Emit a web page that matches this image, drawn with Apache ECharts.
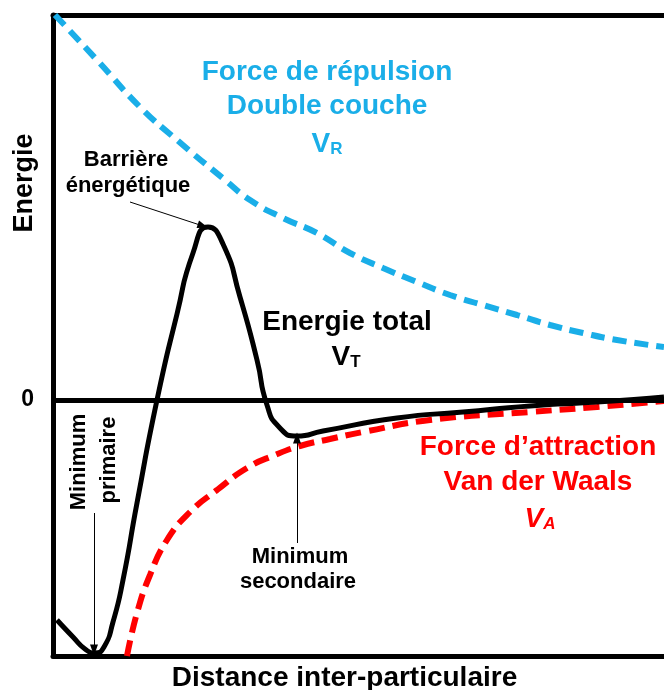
<!DOCTYPE html>
<html>
<head>
<meta charset="utf-8">
<script src="https://cdn.jsdelivr.net/npm/echarts@6/dist/echarts.min.js"></script>
<style>
	html, body { margin: 0; padding: 0; background: #fff; }
	#chart { width: 664px; height: 690px; }
</style>
</head>
<body>
<div id="chart"></div>
<script>
// 距离 (arbitrary units)
const totalDist = [4, 20, 32, 42, 51, 60, 70, 84, 104, 124, 140, 155, 170, 187, 204, 214, 226, 244, 270, 344, 410, 477, 544, 611];
const totalEnergy = [-220, -237, -249, -253, -247, -222, -180, -103, 0, 86, 147, 173, 156, 103, 40, -5, -27, -36, -31, -18, -12, -6, -2, 3];

const repDist = [2, 44, 87, 124, 172, 197, 230, 264, 297, 330, 364, 397, 430, 464, 497, 530, 564, 611];
const repEnergy = [385, 340, 293, 260, 220, 200, 182, 167, 147, 132, 118, 105, 95, 85, 75, 67, 60, 53];

const attDist = [74, 84, 97, 114, 137, 164, 194, 222, 247, 277, 310, 377, 477, 544, 611];
const attEnergy = [-256, -213, -175, -140, -112, -90, -68, -55, -46, -39, -32, -20, -12, -7, -1];

const zip = (xs, ys) => xs.map((x, i) => [x, ys[i]]);

const FONT = "Liberation Sans, Arial, sans-serif";
const BLUE = "#1aaee8";
const RED = "#ff0000";

const myChart = echarts.init(document.querySelector("#chart"));

// 箭头
const arrow = (from, to) => [
	{ coord: from, symbol: "none" },
	{ coord: to, symbol: "triangle", symbolSize: [8, 11] },
];

// 文字
const label = (text, x, y, color, size, rotate) => ({
	type: "text",
	x,
	y,
	rotation: rotate ? Math.PI / 2 : 0,
	style: {
		text,
		fill: color,
		font: `bold ${size}px ${FONT}`,
		align: "center",
		verticalAlign: "middle",
	},
});

// V 加下标
const subLabel = (sub, x, y, color, italic) => ({
	type: "text",
	x,
	y,
	style: {
		text: `{v|V}{s|${sub}}`,
		align: "center",
		verticalAlign: "middle",
		rich: {
			v: { fill: color, font: `${italic ? "italic " : ""}bold 28px ${FONT}`, lineHeight: 32 },
			s: { fill: color, font: `${italic ? "italic " : ""}bold 17px ${FONT}`, lineHeight: 32, padding: [10, 0, 0, 0] },
		},
	},
});

const option = {
	animation: false,
	grid: { left: 53, right: 0, top: 15, bottom: 34, outerBoundsMode: "none" },
	xAxis: [
		{
			type: "value",
			min: 0,
			max: 611,
			position: "bottom",
			axisLine: { onZero: false, lineStyle: { color: "#000", width: 5 } },
			axisTick: { show: false },
			axisLabel: { show: false },
			splitLine: { show: false },
			name: "Distance inter-particulaire",
			nameLocation: "middle",
			nameGap: 8,
			nameTextStyle: {
				color: "#000",
				fontSize: 28,
				fontWeight: "bold",
				fontFamily: FONT,
				padding: [0, 28, 0, 0],
			},
		},
		{
			type: "value",
			min: 0,
			max: 611,
			position: "top",
			axisLine: { onZero: false, lineStyle: { color: "#000", width: 5 } },
			axisTick: { show: false },
			axisLabel: { show: false },
			splitLine: { show: false },
		},
	],
	yAxis: {
		type: "value",
		min: -256,
		max: 385,
		axisLine: { show: true, lineStyle: { color: "#000", width: 5 } },
		axisTick: { show: false },
		splitLine: { show: false },
		axisLabel: {
			customValues: [0],
			color: "#000",
			fontSize: 23,
			fontWeight: "bold",
			fontFamily: FONT,
			margin: 19,
		},
	},
	series: [
		{
			name: "Force de répulsion",
			type: "line",
			data: zip(repDist, repEnergy),
			smooth: 0.5,
			symbol: "none",
			lineStyle: { color: BLUE, width: 6, type: [14, 8] },
			z: 2,
		},
		{
			name: "Force d'attraction",
			type: "line",
			data: zip(attDist, attEnergy),
			smooth: 0.5,
			symbol: "none",
			lineStyle: { color: RED, width: 6, type: [16, 8] },
			z: 2,
		},
		{
			name: "Energie total",
			type: "line",
			data: zip(totalDist, totalEnergy),
			smooth: 0.6,
			symbol: "none",
			lineStyle: { color: "#000", width: 5 },
			z: 4,
			markLine: {
				silent: true,
				symbol: ["none", "none"],
				label: { show: false },
				lineStyle: { color: "#000", width: 1, type: "solid" },
				data: [
					[
						{ coord: [0, 0], symbol: "none", lineStyle: { width: 5 } },
						{ coord: [611, 0], symbol: "none" },
					],
					arrow([77, 198], [150, 174]),
					arrow([41, -113], [41, -250]),
					arrow([244, -143], [244, -38]),
				],
			},
		},
	],
	graphic: [
		label("Energie", 25, 183, "#000", 27, true),
		label("Force de répulsion", 327, 72, BLUE, 28),
		label("Double couche", 327, 106, BLUE, 28),
		subLabel("R", 327, 144, BLUE),
		label("Barrière", 126, 160, "#000", 22),
		label("énergétique", 128, 186, "#000", 22),
		label("Energie total", 347, 322, "#000", 28),
		subLabel("T", 346, 357, "#000"),
		label("Minimum", 79, 462, "#000", 22, true),
		label("primaire", 109, 460, "#000", 22, true),
		label("Minimum", 300, 557, "#000", 22),
		label("secondaire", 298, 582, "#000", 22),
		label("Force d’attraction", 538, 447, RED, 28),
		label("Van der Waals", 538, 482, RED, 28),
		subLabel("A", 540, 519, RED, true),
	],
};

myChart.setOption(option);
</script>
</body>
</html>
